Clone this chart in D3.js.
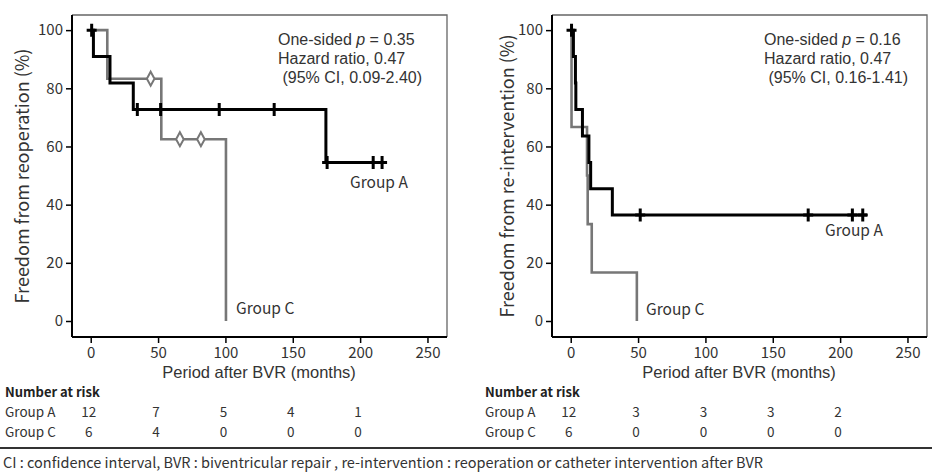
<!DOCTYPE html>
<html><head><meta charset="utf-8">
<script src="https://cdn.jsdelivr.net/npm/d3@7"></script>
<style>
html,body{margin:0;padding:0;background:#fff;}
svg{display:block;font-family:"Noto Sans CJK JP","Noto Sans",sans-serif;}
</style></head>
<body>
<svg id="chart" width="932" height="476"></svg>
<script>
// ---- data ----
const xTicks = [0, 50, 100, 150, 200, 250];
const yTicks = [0, 20, 40, 60, 80, 100];
const riskTimes = [0, 50, 100, 150, 200];

// Panel 1: freedom from reoperation
const reopA_time = [0, 2, 14.3, 31.6, 174.6, 219];
const reopA_surv = [100, 90.9, 81.8, 72.7, 54.5, 54.5];
const reopA_cens = [0.7, 34.6, 51.9, 95.4, 136.2, 175.5, 209.7, 216.3];
const reopC_time = [0, 12.3, 52.4, 100.4];
const reopC_surv = [100, 83.3, 62.5, 0];
const reopC_cens = [44.5, 66.2, 81.8];
const reopRiskA = [12, 7, 5, 4, 1];
const reopRiskC = [6, 4, 0, 0, 0];
const reopNote = ["0.35", "Hazard ratio, 0.47", " (95% CI, 0.09-2.40)"];

// Panel 2: freedom from re-intervention
const reintA_time = [0, 2, 3.5, 3.8, 8.7, 13.5, 14.8, 30.9, 220];
const reintA_surv = [100, 90.9, 81.8, 72.7, 63.6, 54.5, 45.5, 36.4, 36.4];
const reintA_cens = [0.6, 51.6, 176.3, 209.1, 216.8];
const reintC_time = [0, 0.6, 0.6, 12.1, 12.6, 15.6, 49.1];
const reintC_surv = [100, 83.3, 66.7, 50, 33.3, 16.7, 0];
const reintC_cens = [];
const reintRiskA = [12, 3, 3, 3, 2];
const reintRiskC = [6, 0, 0, 0, 0];
const reintNote = ["0.16", "Hazard ratio, 0.47", " (95% CI, 0.16-1.41)"];

const footnote = "CI : confidence interval, BVR : biventricular repair , re-intervention : reoperation or catheter intervention after BVR";

// ---- drawing ----
const svg = d3.select("#chart");
const TXT = "#333";
const colA = "#000", colC = "#777";
const ANNF = '"Liberation Sans",Arial,sans-serif';

function stepValue(times, surv, t) {
  let v = surv[0];
  for (let i = 0; i < times.length; i++) { if (times[i] <= t) v = surv[i]; }
  return v;
}

function panel(opt) {
  const L = opt.left, R = opt.left + 375, T = 15, B = 337;
  const x = d3.scaleLinear().domain([-13.9, 264.5]).range([L, R]);
  const y = d3.scaleLinear().domain([-5.5, 105.2]).range([B, T]);
  const g = svg.append("g");

  // frame: top/right gray
  g.append("path").attr("d", `M${L},${T}H${R}V${B}`).attr("fill", "none")
    .attr("stroke", "#666").attr("stroke-width", 1.3);

  // axes
  const yAxis = d3.axisLeft(y).tickValues(yTicks).tickSize(6).tickPadding(3);
  const ya = g.append("g").attr("transform", `translate(${L},0)`).call(yAxis);
  const xAxis = d3.axisBottom(x).tickValues(xTicks).tickSize(6).tickPadding(3);
  const xa = g.append("g").attr("transform", `translate(0,${B})`).call(xAxis);
  [ya, xa].forEach(a => {
    a.select(".domain").attr("stroke", "#000").attr("stroke-width", 2);
    a.selectAll(".tick line").attr("stroke", "#000").attr("stroke-width", 1.5);
    a.selectAll(".tick text").attr("fill", TXT).style("font-size", "15px")
      .style("font-family", '"Noto Sans CJK JP","Noto Sans",sans-serif');
  });
  ya.select(".domain").attr("d", `M0,${T}V${B}`);
  xa.select(".domain").attr("d", `M${L},0H${R}`);
  xa.selectAll(".tick text").attr("dy", "0.82em");

  // axis titles
  g.append("text").attr("transform", `translate(${L - opt.ytOff},176) rotate(-90)`)
    .attr("text-anchor", "middle").attr("dy", "0.35em").attr("fill", TXT)
    .style("font-size", "18px").text(opt.ytitle);
  g.append("text").attr("x", x(125)).attr("y", 378).attr("text-anchor", "middle")
    .attr("fill", TXT).style("font-size", "16.5px").style("font-family", ANNF)
    .text("Period after BVR (months)");

  const line = d3.line().x(d => x(d[0])).y(d => y(d[1])).curve(d3.curveStepAfter);

  // group C
  g.append("path").datum(opt.cT.map((t, i) => [t, opt.cS[i]]))
    .attr("d", line).attr("fill", "none").attr("stroke", colC).attr("stroke-width", 2.6);
  // group A
  g.append("path").datum(opt.aT.map((t, i) => [t, opt.aS[i]]))
    .attr("d", line).attr("fill", "none").attr("stroke", colA).attr("stroke-width", 3);

  // censor marks C (diamonds)
  g.selectAll(".cc").data(opt.cC).enter().append("path")
    .attr("d", d => { const cx = x(d), cy = y(stepValue(opt.cT, opt.cS, d));
      return `M${cx},${cy - 7}L${cx + 3.8},${cy}L${cx},${cy + 7}L${cx - 3.8},${cy}Z`; })
    .attr("fill", "#fff").attr("stroke", colC).attr("stroke-width", 2);
  // censor marks A (crosses)
  g.selectAll(".ca").data(opt.aC).enter().append("path")
    .attr("d", d => { const cx = x(d), cy = y(stepValue(opt.aT, opt.aS, d));
      return `M${cx},${cy - 6.5}V${cy + 6.5}M${cx - 5},${cy}H${cx + 5}`; })
    .attr("fill", "none").attr("stroke", colA).attr("stroke-width", 3);

  // group labels
  g.append("text").attr("x", opt.labA[0]).attr("y", opt.labA[1]).attr("fill", TXT)
    .style("font-size", "15.5px").text("Group A");
  g.append("text").attr("x", opt.labC[0]).attr("y", opt.labC[1]).attr("fill", TXT)
    .style("font-size", "15.5px").text("Group C");

  // annotation
  const ann = g.append("text").attr("x", opt.annX).attr("y", 45).attr("fill", TXT)
    .style("font-size", "16px").style("font-family", ANNF);
  ann.append("tspan").text("One-sided ");
  ann.append("tspan").style("font-style", "italic").text("p");
  ann.append("tspan").text(" = " + opt.note[0]);
  g.append("text").attr("x", opt.annX).attr("y", 64).attr("fill", TXT)
    .style("font-size", "16px").style("font-family", ANNF).text(opt.note[1]);
  g.append("text").attr("x", opt.annX).attr("y", 83).attr("fill", TXT)
    .style("font-size", "16px").style("font-family", ANNF)
    .style("white-space", "pre").attr("xml:space", "preserve").text(opt.note[2]);

  // number at risk
  const tx = opt.tableX;
  g.append("text").attr("x", tx).attr("y", 397).attr("fill", "#222")
    .style("font-size", "13px").style("font-weight", "bold").text("Number at risk");
  [["Group A", opt.rA, 417], ["Group C", opt.rC, 437]].forEach(([name, vals, yy]) => {
    g.append("text").attr("x", tx).attr("y", yy).attr("fill", TXT)
      .style("font-size", "13.5px").text(name);
    g.selectAll(null).data(vals).enter().append("text")
      .attr("x", (d, i) => x(riskTimes[i]) - 2).attr("y", yy).attr("text-anchor", "middle")
      .attr("fill", TXT).style("font-size", "13.5px").text(d => d);
  });
}

panel({left: 72, ytitle: "Freedom from reoperation (%)", ytOff: 49,
  aT: reopA_time, aS: reopA_surv, aC: reopA_cens,
  cT: reopC_time, cS: reopC_surv, cC: reopC_cens,
  labA: [350, 188], labC: [236, 314], annX: 278, note: reopNote,
  tableX: 5, rA: reopRiskA, rC: reopRiskC});

panel({left: 552, ytitle: "Freedom from re-intervention (%)", ytOff: 44,
  aT: reintA_time, aS: reintA_surv, aC: reintA_cens,
  cT: reintC_time, cS: reintC_surv, cC: reintC_cens,
  labA: [825, 236], labC: [646, 315], annX: 764, note: reintNote,
  tableX: 485, rA: reintRiskA, rC: reintRiskC});

// divider and footnote
svg.append("line").attr("x1", 0).attr("x2", 932).attr("y1", 448).attr("y2", 448)
  .attr("stroke", "#333").attr("stroke-width", 2);
svg.append("text").attr("x", 3).attr("y", 468).attr("fill", TXT)
  .style("font-size", "14.5px").text(footnote);
</script>
</body></html>
